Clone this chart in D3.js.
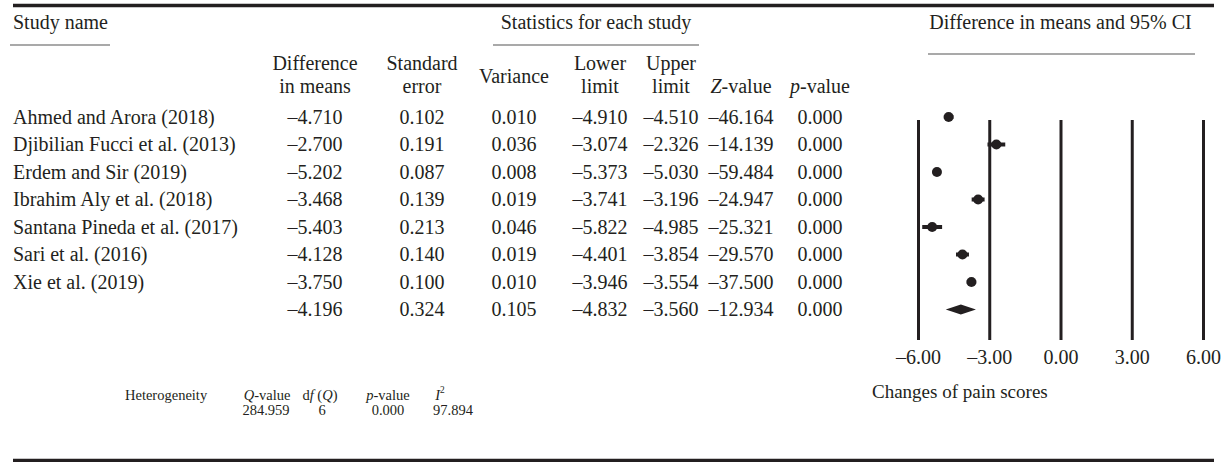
<!DOCTYPE html>
<html lang="en">
<meta charset="UTF-8">
<title>Forest plot</title>
<script src="https://cdn.jsdelivr.net/npm/d3@7"></script>
<style>
  body { margin: 0; background: #fff; }
  svg text { font-family: "Liberation Serif", "Times New Roman", serif; fill: #231f20; }
</style>
<body>
<script>

// values
var studies = ["Ahmed and Arora (2018)", "Djibilian Fucci et al. (2013)", "Erdem and Sir (2019)",
  "Ibrahim Aly et al. (2018)", "Santana Pineda et al. (2017)", "Sari et al. (2016)", "Xie et al. (2019)", ""];
var diffMeans = [-4.710, -2.700, -5.202, -3.468, -5.403, -4.128, -3.750, -4.196];
var stdErr = [0.102, 0.191, 0.087, 0.139, 0.213, 0.140, 0.100, 0.324];
var variance = [0.010, 0.036, 0.008, 0.019, 0.046, 0.019, 0.010, 0.105];
var lowerLimit = [-4.910, -3.074, -5.373, -3.741, -5.822, -4.401, -3.946, -4.832];
var upperLimit = [-4.510, -2.326, -5.030, -3.196, -4.985, -3.854, -3.554, -3.560];
var zValue = [-46.164, -14.139, -59.484, -24.947, -25.321, -29.570, -37.500, -12.934];
var pValue = [0.000, 0.000, 0.000, 0.000, 0.000, 0.000, 0.000, 0.000];
var xTicks = [-6, -3, 0, 3, 6];
var hetLabels = ["Q-value", "df(Q)", "p-value", "I2"];
var hetValues = ["284.959", "6", "0.000", "97.894"];

var width = 1229, height = 462;
var ink = "#231f20";
var fs = 20;

var svg = d3.select("body").append("svg")
  .attr("width", width)
  .attr("height", height);

var f3 = function(v) { return d3.format(".3f")(v).replace(/[-\u2212]/, "\u2013"); };
var f2 = function(v) { return d3.format(".2f")(v).replace(/[-\u2212]/, "\u2013"); };

var rows = d3.range(studies.length);
var y = d3.scalePoint().domain(rows).range([117, 309.5]);
var x = d3.scaleLinear().domain([-6, 6]).range([918, 1203]);

// rules top and bottom
svg.append("line").attr("x1", 13).attr("x2", 1214).attr("y1", 5.5).attr("y2", 5.5)
  .attr("stroke", ink).attr("stroke-width", 3.5);
svg.append("line").attr("x1", 13).attr("x2", 1214).attr("y1", 460.5).attr("y2", 460.5)
  .attr("stroke", ink).attr("stroke-width", 3.5);

// group headers
var headY = 29;
svg.append("text").attr("x", 13).attr("y", headY).attr("font-size", fs).text("Study name");
svg.append("line").attr("x1", 10).attr("x2", 110).attr("y1", 45).attr("y2", 45)
  .attr("stroke", "#555").attr("stroke-width", 1.2);

svg.append("text").attr("x", 596).attr("y", headY).attr("text-anchor", "middle")
  .attr("font-size", fs).text("Statistics for each study");
svg.append("line").attr("x1", 493).attr("x2", 699).attr("y1", 45).attr("y2", 45)
  .attr("stroke", "#555").attr("stroke-width", 1.2);

svg.append("text").attr("x", x(0)).attr("y", headY).attr("text-anchor", "middle")
  .attr("font-size", fs).text("Difference in means and 95% CI");
svg.append("line").attr("x1", 928).attr("x2", 1195).attr("y1", 54).attr("y2", 54)
  .attr("stroke", "#555").attr("stroke-width", 1.2);

// column headers
var cols = [
  {cx: 315, vals: diffMeans, fmt: f3, head: [["Difference", 70], ["in means", 93]]},
  {cx: 422, vals: stdErr, fmt: f3, head: [["Standard", 70], ["error", 93]]},
  {cx: 514, vals: variance, fmt: f3, head: [["Variance", 83]]},
  {cx: 600, vals: lowerLimit, fmt: f3, head: [["Lower", 70], ["limit", 93]]},
  {cx: 671, vals: upperLimit, fmt: f3, head: [["Upper", 70], ["limit", 93]]},
  {cx: 741, vals: zValue, fmt: f3, head: [["Z|-value", 93]]},
  {cx: 820, vals: pValue, fmt: f3, head: [["p|-value", 93]]}
];

cols.forEach(function(c) {
  c.head.forEach(function(h) {
    var t = svg.append("text").attr("x", c.cx).attr("y", h[1])
      .attr("text-anchor", "middle").attr("font-size", fs);
    var parts = h[0].split("|");
    if (parts.length > 1) {
      t.append("tspan").attr("font-style", "italic").text(parts[0]);
      t.append("tspan").text(parts[1]);
    } else {
      t.text(parts[0]);
    }
  });
  svg.selectAll(null).data(rows).enter().append("text")
    .attr("x", c.cx)
    .attr("y", function(i) { return y(i) + 6.5; })
    .attr("text-anchor", "middle")
    .attr("font-size", fs)
    .text(function(i) { return c.fmt(c.vals[i]); });
});

svg.selectAll(".name").data(rows).enter().append("text")
  .attr("class", "name")
  .attr("x", 13)
  .attr("y", function(i) { return y(i) + 6.5; })
  .attr("font-size", fs)
  .text(function(i) { return studies[i]; });

// forest plot
var axis = d3.axisBottom(x)
  .tickValues(xTicks)
  .tickSize(-220)
  .tickPadding(10)
  .tickFormat(f2);

var gAxis = svg.append("g")
  .attr("transform", "translate(0,340)")
  .call(axis);
gAxis.select(".domain").remove();
gAxis.selectAll(".tick line").attr("stroke", ink).attr("stroke-width", 3);
gAxis.selectAll(".tick text")
  .attr("font-size", fs)
  .attr("font-family", "Liberation Serif, serif")
  .attr("fill", ink);

var studyRows = rows.slice(0, rows.length - 1);
svg.selectAll(".ci").data(studyRows).enter().append("line")
  .attr("class", "ci")
  .attr("x1", function(i) { return x(lowerLimit[i]); })
  .attr("x2", function(i) { return x(upperLimit[i]); })
  .attr("y1", function(i) { return y(i); })
  .attr("y2", function(i) { return y(i); })
  .attr("stroke", ink).attr("stroke-width", 4);

svg.selectAll(".pt").data(studyRows).enter().append("ellipse")
  .attr("class", "pt")
  .attr("cx", function(i) { return x(diffMeans[i]); })
  .attr("cy", function(i) { return y(i); })
  .attr("rx", 5).attr("ry", 5)
  .attr("fill", ink);

var s = rows.length - 1;
svg.append("path")
  .attr("d", d3.line()([
    [x(lowerLimit[s]), y(s)],
    [x(diffMeans[s]), y(s) - 5],
    [x(upperLimit[s]), y(s)],
    [x(diffMeans[s]), y(s) + 5]
  ]) + "Z")
  .attr("fill", ink);

svg.append("text").attr("x", 872).attr("y", 398).attr("font-size", 19)
  .text("Changes of pain scores");

// heterogeneity
var hfs = 14.5;
svg.append("text").attr("x", 125).attr("y", 400).attr("font-size", hfs).text("Heterogeneity");
var hetX = [267, 320, 388, 440];
var hetValX = [266, 322, 388, 453];
hetLabels.forEach(function(lab, i) {
  var t = svg.append("text").attr("x", hetX[i]).attr("y", 400)
    .attr("text-anchor", "middle").attr("font-size", hfs);
  if (lab === "Q-value") {
    t.append("tspan").attr("font-style", "italic").text("Q");
    t.append("tspan").text("-value");
  } else if (lab === "p-value") {
    t.append("tspan").attr("font-style", "italic").text("p");
    t.append("tspan").text("-value");
  } else if (lab === "df(Q)") {
    t.append("tspan").text("d");
    t.append("tspan").attr("font-style", "italic").text("f");
    t.append("tspan").text(" (");
    t.append("tspan").attr("font-style", "italic").text("Q");
    t.append("tspan").text(")");
  } else {
    t.append("tspan").attr("font-style", "italic").text("I");
    t.append("tspan").attr("font-size", hfs * 0.65).attr("dy", -7).text("2");
  }
  svg.append("text").attr("x", hetValX[i]).attr("y", 415)
    .attr("text-anchor", "middle").attr("font-size", hfs).text(hetValues[i]);
});

</script>
</body>
</html>
